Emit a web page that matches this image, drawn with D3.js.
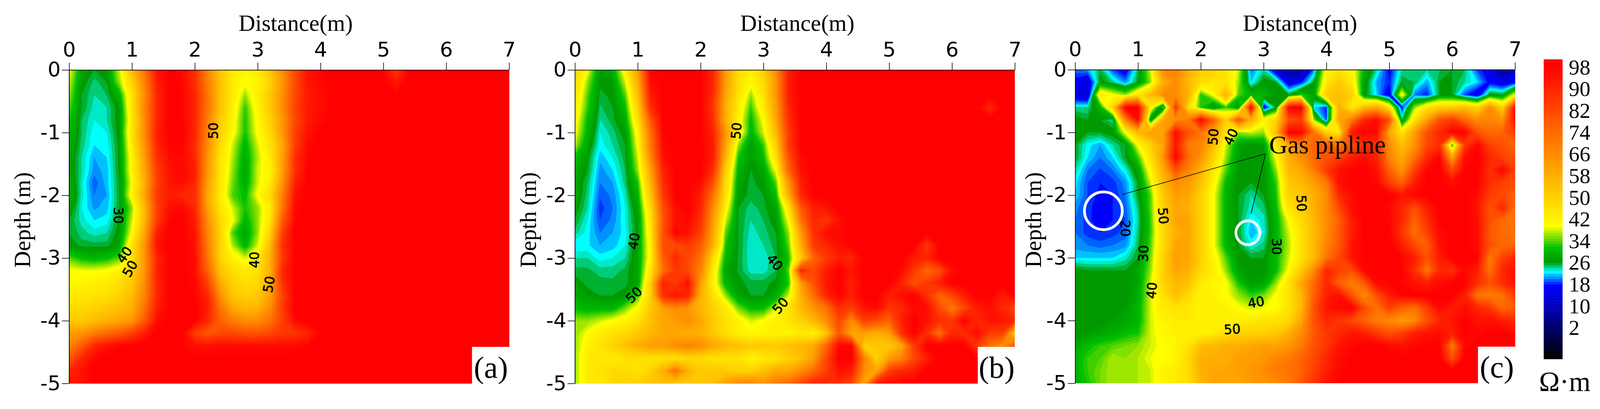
<!DOCTYPE html>
<html>
<head>
<meta charset="utf-8">
<script src="https://cdn.jsdelivr.net/npm/d3@7"></script>
<style>
  html, body { margin: 0; background: #fff; overflow: hidden; }
  svg { display: block; width: 100vw; height: auto; }
  text { fill: #000; }
  .tick text, .contourLabel { font-family: "DejaVu Sans", sans-serif; }
  .serif { font-family: "Liberation Serif", serif; }
</style>
</head>
<body>
<svg id="chart" viewBox="0 0 4150 1048"></svg>
<script>
// axis ticks
const distanceTicks = [0, 1, 2, 3, 4, 5, 6, 7];
const depthTicks = [0, -1, -2, -3, -4, -5];
const legendTicks = [98, 90, 82, 74, 66, 58, 50, 42, 34, 26, 18, 10, 2];

// colour ramp
const rampValues = [-9.5, 5, 17, 18, 19, 20, 21, 22, 23, 24, 25, 26, 31, 39, 98];
const rampColors = ["#000000", "#000090", "#0000ff", "#0030ff", "#0060ff", "#0090ff", "#00c0ff", "#00ffff",
  "#00e8c8", "#00cc78", "#00b030", "#009a00", "#00c000", "#ffff00", "#ff0000"];

// resistivity, one row per 0.2 m of depth, one value per 0.2 m of distance
const panelA = [
  [40,28,26,27,38,55,72,95,99,97,88,68,52,44,41,44,52,66,82,95,98, 99,99,99,99,99,85,99,99,99,99,99,99,99,99,99],
  [38,27,24.5,26,36,50,68,92,99,97,88,70,54,44,40,42,50,64,82,94,97, 99,99,99,99,99,93,99,99,99,99,99,99,99,99,99],
  [36,26,24,25,30,46,66,90,99,98,90,72,54,44,36,44,52,66,82,92,96, 99,99,99,99,99,99,99,99,99,99,99,99,99,99,99],
  [34,26,23.5,24,27,46,68,90,99,98,90,72,54,43,33,42,52,66,84,93,96, 99,99,99,99,99,99,99,99,99,99,99,99,99,99,99],
  [32,25,23,24,27,44,66,90,99,98,90,70,52,42,32,41,50,64,82,93,97, 99,99,99,99,99,99,99,99,99,99,99,99,99,99,99],
  [30,25,22.3,23,27,46,66,92,99,99,90,68,50,41,32,40,48,64,84,95,99, 99,99,99,99,99,99,99,99,99,99,99,99,99,99,99],
  [29,24.5,22,22.5,26.5,44,64,90,98,98,88,66,48,38,30,38,46,60,85,97,99, 99,99,99,99,99,99,99,99,99,99,99,99,99,99,99],
  [28,24,21,22,26.5,42,62,88,96,97,90,64,46,37,29,37,44,62,88,98,99, 99,99,99,99,99,99,99,99,99,99,99,99,99,99,99],
  [28,24,20.5,21.5,26.5,42,60,85,95,97,92,64,46,36,28.5,38,42,62,88,99,99, 99,99,99,99,99,99,99,99,99,99,99,99,99,99,99],
  [29,23.5,19.3,21.5,26,40,58,84,94,96,90,62,45,35,29,38,44,65,92,99,99, 99,99,99,99,99,99,99,99,99,99,99,99,99,99,99],
  [30,23.5,20,21,26,42,60,86,92,90,88,60,44,34,31,40,48,70,95,99,99, 99,99,99,99,99,99,99,99,99,99,99,99,99,99,99],
  [28,23,20.8,21.5,26,36,56,84,96,97,90,62,46,38,32,36,44,72,97,99,99, 99,99,99,99,99,99,99,99,99,99,99,99,99,99,99],
  [26,23.5,22,22.5,26.5,38,56,85,98,99,92,66,48,40,30,36,46,78,98,99,99, 99,99,99,99,99,99,99,99,99,99,99,99,99,99,99],
  [26,24.5,23.5,24,27,40,60,92,99,99,94,68,50,34,28,36,50,85,99,99,99, 99,99,99,99,99,99,99,99,99,99,99,99,99,99,99],
  [27,25.5,25.5,25.5,28,46,64,95,99,99,95,70,50,37,30,38,56,88,99,99,99, 99,99,99,99,99,99,99,99,99,99,99,99,99,99,99],
  [34,31,30,31,34,46,64,90,99,99,96,72,50,42,38,44,58,86,99,99,99, 99,99,99,99,99,99,99,99,99,99,99,99,99,99,99],
  [40,39,39,40,42,50,64,92,99,99,96,76,54,47,44,46,58,90,99,99,99, 99,99,99,99,99,99,99,99,99,99,99,99,99,99,99],
  [41,42,43,44,47,52,66,90,99,99,97,84,60,50,47,48,60,88,99,99,99, 99,99,99,99,99,99,99,99,99,99,99,99,99,99,99],
  [44,45,46,47,50,55,68,90,99,99,98,90,66,53,50,52,62,84,99,99,99, 99,99,99,99,99,99,99,99,99,99,99,99,99,99,99],
  [48,48,50,52,54,58,72,92,99,99,99,93,72,60,56,57,66,86,99,99,99, 99,99,99,99,99,99,99,99,99,99,99,99,99,99,99],
  [52,52,55,58,60,64,78,96,99,99,99,90,76,70,66,66,72,84,97,99,99, 99,99,99,99,99,99,99,99,99,99,99,99,99,99,99],
  [62,64,70,74,78,84,92,99,99,99,84,78,82,82,80,80,82,86,86,90,98, 99,99,99,99,99,99,99,99,99,99,99,99,99,99,99],
  [68,78,90,95,98,99,99,99,99,99,95,95,96,96,96,96,96,96,97,98,99, 99,99,99,99,99,99,99,99,99,99,99,99,99,99,99],
  [78,90,97,99,99,99,99,99,99,99,99,99,99,99,99,99,99,99,99,99,99, 99,99,99,99,99,99,99,99,99,99,99,99,99,99,99],
  [90,95,99,99,99,99,99,99,99,99,99,99,99,99,99,99,99,99,99,99,99, 99,99,99,99,99,99,99,99,99,99,99,99,99,99,99],
  [92,94,99,99,99,99,99,99,99,99,99,99,99,99,99,99,99,99,99,99,99, 99,99,99,99,99,99,99,99,99,99,99,99,99,99,99]
];

const panelB = [
  [50,40,27,29,42,62,98,99,99,99,99,90,62,47,42,50,66,92,99,99,99, 99,99,99,99,99,99,99,99,99,99,99,99,99,99,99],
  [48,36,26.5,27,38,58,95,99,99,99,99,90,62,47,41,48,64,92,99,99,99, 99,99,99,99,99,99,99,99,99,99,99,99,99,99,99],
  [46,34,25.5,26.5,34,54,92,99,99,99,99,88,60,46,36,46,64,92,99,99,99, 99,99,99,99,99,99,99,99,99,99,99,99,99,99,99],
  [44,33,24.8,26,31,50,88,99,99,99,99,86,58,44,33,44,62,90,99,99,99, 99,99,99,99,99,99,99,99,99,99,99,99,90,99,99],
  [42,31,24,25.5,29,46,78,99,99,99,99,88,58,42,31,40,60,88,99,99,99, 99,99,99,99,99,99,99,99,99,99,99,99,99,99,99],
  [40,30,23,24.5,27,42,72,98,99,99,99,90,64,44,30,38,56,85,99,99,99, 99,99,99,99,99,99,99,99,99,99,99,99,99,99,99],
  [37,28,22.5,24,26,40,70,96,99,99,99,92,60,36,27,33,50,85,99,99,99, 99,99,99,99,99,99,99,99,99,99,99,99,99,99,99],
  [31,26.5,21.3,23,25.5,38,66,95,99,99,99,92,56,32,27,31,46,80,97,99,99, 99,99,99,99,99,99,99,99,99,99,99,99,99,99,99],
  [29,26,20.5,22,25,36,60,90,99,99,99,88,50,30,26,28,40,75,95,99,99, 99,99,99,99,99,99,99,99,99,99,99,99,99,99,99],
  [28,25,20,21,24.5,32,56,88,99,99,96,80,48,28,25.5,27,34,64,92,99,99, 99,99,99,99,99,99,99,99,99,99,99,99,99,99,99],
  [28,24.5,19.2,20.3,23.5,30,52,85,99,99,92,72,46,27,25.5,26,31,58,90,98,99, 99,99,99,99,99,99,99,99,99,99,99,99,99,99,99],
  [27,24,18.5,20,23,28,48,80,96,99,90,66,42,26,24.5,25.5,28,45,78,92,94, 99,99,99,99,99,99,99,99,99,99,99,99,99,99,99],
  [26,23,19,20.3,23,27,45,78,95,97,88,62,38,26,24,25,27,40,72,90,86, 95,99,99,99,99,99,99,99,99,99,99,99,99,99,99],
  [24.5,22.5,20,21,22.5,27,44,80,98,95,84,60,34,26,23.5,24.5,26,36,62,88,96, 97,99,99,99,99,99,99,99,99,99,99,99,99,99,99],
  [22,22.2,21,21.5,23,28,42,80,82,85,78,58,32,26,23.2,24,25.5,34,58,85,90, 95,99,99,99,99,99,99,85,99,99,99,99,99,99,99],
  [24,24,22.5,23,24,28,42,76,90,82,72,48,30,25.8,23.2,23.3,25,32,52,75,85, 92,90,99,99,99,99,92,90,99,99,99,99,99,99,99],
  [25.5,25.3,24.5,24.5,25.3,28,45,72,86,82,68,44,28,25.8,23.5,23.5,25,34,90,82,92, 99,94,99,99,99,97,85,75,80,96,99,99,99,99,99],
  [27,25.5,25.5,25.3,25.5,28,50,92,85,96,62,42,30,26.5,25.5,25.5,26.5,32,62,80,94, 99,90,99,99,99,90,80,85,92,99,99,99,99,99,99],
  [28,27,26,26,27,33,50,88,94,90,58,46,36,28,26,26,29,38,58,74,90, 98,92,99,99,92,96,99,88,75,82,92,99,99,92,99],
  [31,30,30,30,35,41,52,62,66,64,56,50,44,35,31,31,38,46,56,64,72, 88,84,94,97,86,90,97,96,82,70,82,92,95,90,82],
  [36,36,38,40,42,46,54,60,62,66,60,52,46,42,38,40,42,46,50,56,66, 82,66,85,80,76,92,99,95,88,86,99,90,95,94,90],
  [36,40,44,46,48,52,56,60,60,58,58,52,47,43,41,42,42,42,44,42,52, 78,60,62,58,62,88,99,88,72,90,88,97,84,85,50],
  [36,42,46,50,54,58,62,62,66,68,66,60,56,54,52,52,52,54,56,60,75, 97,98,50,52,52,60,85,99,99,99,99,85,72,66,80],
  [36,44,44,44,46,46,46,46,46,48,48,46,46,46,42,44,46,50,54,62,82, 99,99,70,50,62,68,82,92,99,99,99,98,82,68,90],
  [36,44,46,48,48,46,50,58,72,58,52,52,52,50,50,54,60,60,66,74,84, 95,92,66,60,85,90,92,99,99,99,99,99,90,70,66],
  [36,44,44,48,50,50,52,54,52,52,52,54,62,66,68,64,70,74,82,90,90, 88,82,60,92,96,99,99,99,99,99,99,99,99,70,60]
];

const panelC = [
  [20,21,25.5,19,16,25,38,66,68,58,50,50,46,38,20,24,14,8, 6,20,42,46,42,30,24,17,24,24.5,24,25,26,25,19,16,5,12],
  [17,14,27,24.5,20.5,26,36,58,66,56,48,45,46,36,22,27,26,15, 18,26,44,52,44,28,21,18,26,25,21,26,26,24,22,17,15,17],
  [14,13,45,40,36,46,55,66,66,58,32,40,58,34,30,30,27,26, 33,28,52,54,50,27,22,15,42,20,18,26,26,19,15,27,26,40],
  [24,24,30,50,99,99,44,22,86,48,32,24.8,33,25,99,16,26,99, 99,22,18,58,44,55,60,46,17,36,46,50,50,54,48,65,50,95],
  [27,26,26,24,68,96,26,60,66,70,98,76,50,80,58,42,50,80, 85,36,19,60,70,90,96,80,25,46,62,80,86,75,66,68,64,97],
  [27,26,26,27,40,55,62,60,96,80,72,62,46,36,38,36,55,99, 97,72,50,44,94,99,96,60,45,62,80,90,99,98,80,74,76,85],
  [26,22.5,21,24,26,40,50,60,94,70,68,55,38,28,26,27,44,60, 68,76,78,70,80,88,88,66,54,64,82,88,30,85,98,84,80,75],
  [26,22,20,22,26,33,46,64,98,74,64,50,36,27,26,27,40,58, 66,74,80,84,92,96,92,68,60,72,90,98,60,96,99,90,84,80],
  [24,20,18.8,20,23,28,42,58,80,68,58,45,34,26.5,26,26,36,56, 60,70,86,95,98,99,95,76,64,84,97,99,82,98,99,88,98,84],
  [22.5,19,18,18.5,20.5,26,38,55,66,63,54,42,31,26,26,26,33,52, 56,62,70,95,99,99,97,84,76,92,99,99,96,98,99,88,84,80],
  [22,19,17.5,18,20,26,34,52,62,60,50,40,30,26,24,26,32,50, 52,58,66,90,96,99,99,99,94,97,99,98,99,99,96,84,82,76],
  [20.5,18.5,17,18,19.5,24.5,34,50,60,58,50,40,30,26,23.5,24.5,31,46, 50,58,66,82,96,99,99,97,90,80,92,99,99,99,94,80,90,74],
  [20,18.5,17,18,19,24,33,50,60,60,50,40,30,26,22,23.5,30,40, 48,56,66,76,92,99,99,97,90,76,88,99,99,99,96,80,74,72],
  [20,18.5,18,18.5,19.5,24.5,33,48,58,60,50,40,30,26,21,23,30,38, 46,55,66,78,92,99,99,99,86,72,84,96,99,99,96,78,74,72],
  [20.5,20,19.5,20,20.5,25,34,48,60,60,50,40,30,26,23,24.5,30,37, 46,56,68,78,94,99,99,99,92,82,76,96,99,99,96,80,74,74],
  [22,22,22,22,23.5,26,35,50,62,60,50,42,34,26.5,26,26,31,38, 46,56,72,82,94,99,99,99,98,92,80,92,99,99,98,70,84,90],
  [27,26,26,26,26,28,36,50,60,58,48,44,36,28,26,26,31,40, 52,66,90,84,80,97,99,99,98,88,70,90,88,97,92,72,90,95],
  [26,26,26,26,26,28,38,50,56,54,44,42,40,32,27,28,36,46, 60,74,90,76,70,78,97,98,98,94,92,96,98,99,88,80,88,95],
  [26,26,26,26,26,29,38,46,54,48,42,42,40,36,33,35,40,46, 56,76,92,96,80,66,80,92,98,99,99,99,99,92,72,70,72,84],
  [26,26,26,26,27,30,38,44,46,45,42,42,42,40,38,39,40,46, 56,80,94,97,99,82,72,84,76,72,84,97,92,96,90,86,74,78],
  [26,26,26,27,28,30,38,42,44,44,42,42,42,43,44,46,46,48, 60,80,90,86,82,76,70,66,62,66,80,90,94,99,95,95,92,90],
  [26,27,28,29,31,32,38,41,42,42,42,44,46,50,50,50,52,58, 66,78,86,90,94,92,86,80,84,92,94,96,92,99,97,99,99,97],
  [28,31,33,34,35,36,38,40,42,46,54,56,58,58,60,62,60,64, 70,80,86,94,97,99,99,97,95,97,99,99,70,97,99,99,99,99],
  [30,33,34,37,36,37,39,40,42,48,58,58,58,62,62,64,68,70, 75,82,90,96,99,99,99,99,99,99,99,99,80,99,99,99,99,99],
  [30,33,35,37,36,37,38,42,44,48,58,60,60,62,64,66,70,72, 76,84,92,97,99,99,99,99,99,99,99,99,99,99,99,99,99,99],
  [29,32,35,37,36,37,38,42,44,46,56,60,60,60,62,64,66,70, 78,86,94,98,99,99,99,99,99,99,99,99,99,99,99,99,99,99]
];

// contour labels: [text, distance, depth, angle]
const labelsA = [["30",0.78,-2.32,90],["40",0.88,-2.95,-55],["50",0.97,-3.17,-60],["50",2.3,-0.97,-90],["40",2.95,-3.03,-90],["50",3.18,-3.42,-80]];
const labelsB = [["40",0.94,-2.73,-80],["50",0.94,-3.59,-45],["50",2.57,-0.97,-85],["40",3.18,-3.07,50],["50",3.27,-3.76,-50]];
const labelsC = [["50",2.2,-1.07,-85],["40",2.48,-1.07,-65],["20",0.8,-2.53,90],["50",1.4,-2.33,85],["50",3.6,-2.13,88],
  ["30",3.2,-2.82,90],["30",1.09,-2.93,-88],["40",1.22,-3.52,-85],["40",2.88,-3.71,-10],["50",2.5,-4.14,-3]];

// pipe positions in panel c: distance, depth
const pipeDistance = [0.45, 2.75];
const pipeDepth = [-2.25, -2.6];
const pipeRadius = [49, 31];
const leaderEnds = [[0.75, -1.99], [2.8, -2.3]];
const leaderStart = [3.03, -1.34];

const gridStep = 0.2;
const gridCols = panelA[0].length;
const gridRows = panelA.length;
const levels = d3.range(-10, 101);

const color = d3.scaleLinear().domain(rampValues).range(rampColors).clamp(true);
const svg = d3.select("#chart");

function drawPanel(id, values, left, top, labels, panelName, titleX, depthX) {
  const x = d3.scaleLinear().domain([0, 7]).range([left, left + 1141]);
  const y = d3.scaleLinear().domain([0, -5]).range([top, top + 814]);

  const g = svg.append("g");
  g.append("clipPath").attr("id", "clip" + id)
    .append("rect").attr("x", left).attr("y", top).attr("width", 1141).attr("height", 814);

  const project = d3.geoTransform({
    point: function (px, py) {
      this.stream.point(x((px - 0.5) * gridStep), y(-(py - 0.5) * gridStep));
    }
  });
  const path = d3.geoPath(project);
  const contours = d3.contours().size([gridCols, gridRows]).thresholds(levels)(values.flat());

  g.append("g").attr("clip-path", "url(#clip" + id + ")")
    .selectAll("path").data(contours).join("path")
    .attr("d", path)
    .attr("fill", d => color(d.value));

  g.selectAll(".contourLabel").data(labels).join("text")
    .attr("class", "contourLabel")
    .attr("transform", d => `translate(${x(d[1])},${y(d[2])}) rotate(${d[3]})`)
    .attr("text-anchor", "middle")
    .attr("dominant-baseline", "central")
    .attr("font-size", 34)
    .attr("stroke", "#000").attr("stroke-width", 0.9)
    .text(d => d[0]);

  // axes, top and left only
  const xAxis = g.append("g").attr("transform", `translate(0,${top})`)
    .call(d3.axisTop(x).tickValues(distanceTicks).tickSizeInner(19).tickSizeOuter(0).tickPadding(16).tickFormat(d => d));
  const yAxis = g.append("g").attr("transform", `translate(${left},0)`)
    .call(d3.axisLeft(y).tickValues(depthTicks).tickSizeInner(19).tickSizeOuter(0).tickPadding(3).tickFormat(d => String(d)));
  [xAxis, yAxis].forEach(a => {
    a.selectAll("text").attr("font-size", 53).attr("font-family", null);
    a.selectAll("line, path").attr("stroke", "#000").attr("stroke-width", 1.6);
  });

  g.append("text").attr("class", "serif")
    .attr("x", titleX).attr("y", 80).attr("text-anchor", "middle")
    .attr("font-size", 60).text("Distance(m)");
  g.append("text").attr("class", "serif")
    .attr("transform", `translate(${depthX},571) rotate(-90)`).attr("text-anchor", "middle")
    .attr("font-size", 60).text("Depth (m)");

  // white box with the panel letter
  g.append("rect").attr("x", x(7) - 96).attr("y", y(-5) - 95).attr("width", 97).attr("height", 96).attr("fill", "#fff");
  g.append("text").attr("class", "serif")
    .attr("x", x(7) - 47).attr("y", y(-5) - 15).attr("text-anchor", "middle")
    .attr("font-size", 80).text(panelName);

  return { x, y, g };
}

drawPanel("a", panelA, 179.3, 181.5, labelsA, "(a)", 767, 78);
drawPanel("b", panelB, 1491.2, 181.5, labelsB, "(b)", 2068, 1390);
const panel3 = drawPanel("c", panelC, 2788.5, 181, labelsC, "(c)", 3372, 2700);

// gas pipe circles and leader lines
panel3.g.selectAll(".pipe").data(pipeDistance).join("circle")
  .attr("class", "pipe")
  .attr("cx", d => panel3.x(d))
  .attr("cy", (d, i) => panel3.y(pipeDepth[i]))
  .attr("r", (d, i) => pipeRadius[i])
  .attr("fill", "none").attr("stroke", "#fff").attr("stroke-width", 7);

panel3.g.selectAll(".leader").data(leaderEnds).join("line")
  .attr("class", "leader")
  .attr("x1", panel3.x(leaderStart[0])).attr("y1", panel3.y(leaderStart[1]))
  .attr("x2", d => panel3.x(d[0])).attr("y2", d => panel3.y(d[1]))
  .attr("stroke", "#000").attr("stroke-width", 1.6);

panel3.g.append("text").attr("class", "serif")
  .attr("x", 3292).attr("y", 398).attr("font-size", 66).text("Gas pipline");

// colour bar
const legendY = d3.scaleLinear().domain([100.9, -9.5]).range([154, 932]);
const legend = svg.append("g");
legend.selectAll("rect").data(levels).join("rect")
  .attr("x", 4004).attr("width", 49)
  .attr("y", d => legendY(Math.min(d + 1, 100.9)))
  .attr("height", d => Math.max(0, legendY(Math.max(d, -9.5)) - legendY(Math.min(d + 1, 100.9))) + 0.5)
  .attr("fill", d => color(d));

legend.selectAll("text").data(legendTicks).join("text")
  .attr("class", "serif")
  .attr("x", 4069).attr("y", d => legendY(d))
  .attr("dominant-baseline", "central")
  .attr("font-size", 56)
  .text(d => d);

svg.append("text").attr("class", "serif")
  .attr("x", 3992).attr("y", 1015).attr("font-size", 72).text("Ω·m");
</script>
</body>
</html>
